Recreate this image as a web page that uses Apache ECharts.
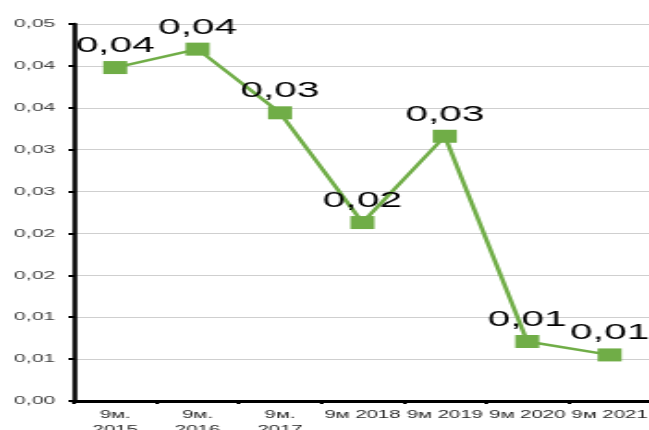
<!DOCTYPE html>
<html>
<head>
<meta charset="utf-8">
<script src="https://cdn.jsdelivr.net/npm/echarts@6/dist/echarts.min.js"></script>
<style>
    html, body { margin: 0; padding: 0; background: #fff; overflow: hidden; }
    /* the source picture is stretched sideways, so draw narrow and stretch */
    #main { width: 351px; height: 430px; transform: scaleX(1.849); transform-origin: 0 0; }
</style>
</head>
<body>
<div id="main"></div>
<script>
var categories = ['9м. 2015', '9м. 2016', '9м. 2017', '9м 2018', '9м 2019', '9м 2020', '9м 2021'];
var values = [0.0398, 0.0420, 0.0344, 0.0213, 0.0316, 0.0071, 0.0055];
var yMin = 0, yMax = 0.045, yStep = 0.005;

function comma2(v) {
    // Excel-style rounding to two places, with a decimal comma
    var n = Math.round(Math.round(v * 1000) / 10);
    return (n / 100).toFixed(2).replace('.', ',');
}

~function () {
    var myChart = echarts.init(document.getElementById('main'));
    var option = {
        animation: false,
        grid: {
            left: 40,
            top: 24,
            width: 312,
            bottom: 29,
            outerBoundsMode: 'none'
        },
        xAxis: [
            {
                type: 'category',
                data: categories,
                boundaryGap: true,
                axisLine: {lineStyle: {color: '#000', width: 3}},
                axisTick: {show: true, length: 3, lineStyle: {color: '#000', width: 2}},
                axisLabel: {
                    interval: 0,
                    margin: 6,
                    color: '#262626',
                    fontFamily: 'Liberation Sans',
                    fontSize: 11,
                    lineHeight: 15,
                    formatter: function (v) { return v.replace('. ', '.\n'); }
                },
                splitLine: {show: false}
            }
        ],
        yAxis: [
            {
                type: 'value',
                min: yMin,
                max: yMax,
                interval: yStep,
                axisLine: {show: true, lineStyle: {color: '#000', width: 2.5}},
                axisTick: {show: true, length: 3, lineStyle: {color: '#000', width: 2}},
                axisLabel: {
                    margin: 10,
                    color: '#404040',
                    fontFamily: 'Liberation Sans',
                    fontSize: 11.5,
                    formatter: comma2
                },
                splitLine: {show: true, lineStyle: {color: '#cfcfcf', width: 1}}
            }
        ],
        series: [
            {
                type: 'line',
                data: values,
                symbol: 'rect',
                symbolSize: 13,
                lineStyle: {color: '#70AD47', width: 2.5},
                itemStyle: {color: '#70AD47'},
                label: {
                    show: true,
                    position: 'top',
                    distance: 4,
                    color: '#000',
                    fontFamily: 'Liberation Sans',
                    fontSize: 22,
                    formatter: function (p) { return comma2(p.value); }
                }
            }
        ]
    };
    myChart.setOption(option);
}();
</script>
</body>
</html>
